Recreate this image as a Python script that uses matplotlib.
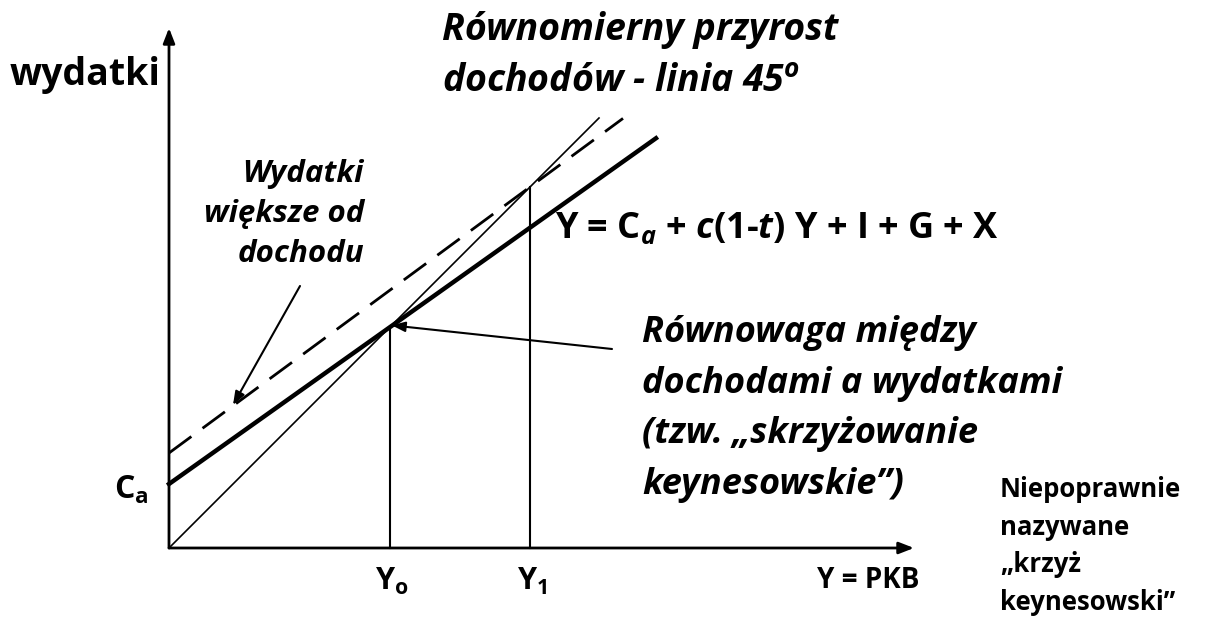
import numpy as np
import matplotlib.pyplot as plt

plt.rcParams['font.family'] = 'Open Sans'
plt.rcParams['mathtext.fontset'] = 'custom'
plt.rcParams['mathtext.rm'] = 'Open Sans:bold'
plt.rcParams['mathtext.it'] = 'Open Sans:bold:italic'
plt.rcParams['mathtext.bf'] = 'Open Sans:bold'

# parametry diagramu (jednostki umowne, poczatek ukladu w (0,0))
ca = 64            # wydatki autonomiczne
c_marg = 0.71      # krancowa sklonnosc (c(1-t))
ca_dash = 95       # linia przerywana - wydatki wieksze od dochodu
c_dash = 0.737
x_end_45 = 430
x_end_solid = 487
x_end_dash = 454
x_axis_len = 745
y_axis_len = 520

y0 = ca / (1 - c_marg)
y1 = ca_dash / (1 - c_dash)

fig = plt.figure(figsize=(12.08, 6.2), dpi=100)
ax = fig.add_axes([0, 0, 1, 1])
ax.set_xlim(-169, 1039)
ax.set_ylim(-72, 548)
ax.axis('off')

# osie ze strzalkami
arr = dict(arrowstyle='-|>,head_length=0.9,head_width=0.35', color='black', lw=2, shrinkA=0, shrinkB=0)
ax.annotate('', xy=(x_axis_len, 0), xytext=(0, 0), arrowprops=arr)
ax.annotate('', xy=(0, y_axis_len), xytext=(0, 0), arrowprops=arr)

# linia 45 stopni
x = np.array([0, x_end_45])
ax.plot(x, x, color='black', lw=1.2)
# linia wydatkow
x = np.array([0, x_end_solid])
ax.plot(x, ca + c_marg * x, color='black', lw=3.2)
# linia przerywana
x = np.array([0, x_end_dash])
ax.plot(x, ca_dash + c_dash * x, color='black', lw=2, dashes=(10, 5))

# linie pionowe Y0, Y1
ax.plot([y0, y0], [0, y0], color='black', lw=1.5)
ax.plot([y1, y1], [0, y1], color='black', lw=1.5)

bi = dict(fontweight='bold', fontstyle='italic', color='black')
bo = dict(fontweight='bold', color='black')

ax.text(-84, 473, 'wydatki', fontsize=27, ha='center', va='center', **bo)
ax.text(273, 518, 'Równomierny przyrost', fontsize=27, ha='left', va='center', **bi)
ax.text(273, 466, 'dochodów - linia 45$^{o}$', fontsize=27, ha='left', va='center', **bi)

ax.text(195, 334, 'Wydatki\nwiększe od\ndochodu', fontsize=22.5, ha='right', va='center',
        linespacing=1.45, **bi)
ax.annotate('', xy=(64, 143), xytext=(131, 262),
            arrowprops=dict(arrowstyle='-|>,head_length=0.8,head_width=0.3', color='black', lw=1.5,
                            shrinkA=0, shrinkB=0))

ax.text(386, 319, 'Y = C$_{a}$ + $\\mathit{c(1}$-$\\mathit{t)}$ Y + I + G + X', fontsize=26,
        ha='left', va='center', **bo)

ax.text(473, 139, 'Równowaga między\ndochodami a wydatkami\n(tzw. „skrzyżowanie\nkeynesowskie”)',
        fontsize=26, ha='left', va='center', linespacing=1.55, **bi)
ax.annotate('', xy=(y0 + 2, y0 + 2), xytext=(443, 199),
            arrowprops=dict(arrowstyle='-|>,head_length=0.8,head_width=0.3', color='black', lw=1.5,
                            shrinkA=0, shrinkB=0))

ax.text(-20, 58, 'C$_{\\mathrm{a}}$', fontsize=23, ha='right', va='center', **bo)
ax.text(y0 + 2, -33, 'Y$_{\\mathrm{o}}$', fontsize=22, ha='center', va='center', **bo)
ax.text(y1 + 2, -33, 'Y$_{\\mathrm{1}}$', fontsize=22, ha='center', va='center', **bo)
ax.text(699, -32, 'Y = PKB', fontsize=20, ha='center', va='center', **bo)

ax.text(831, 2, 'Niepoprawnie\nnazywane\n„krzyż\nkeynesowski”', fontsize=18.5, ha='left', va='center',
        linespacing=1.5, **bo)

fig.savefig('out.png', dpi=100)
